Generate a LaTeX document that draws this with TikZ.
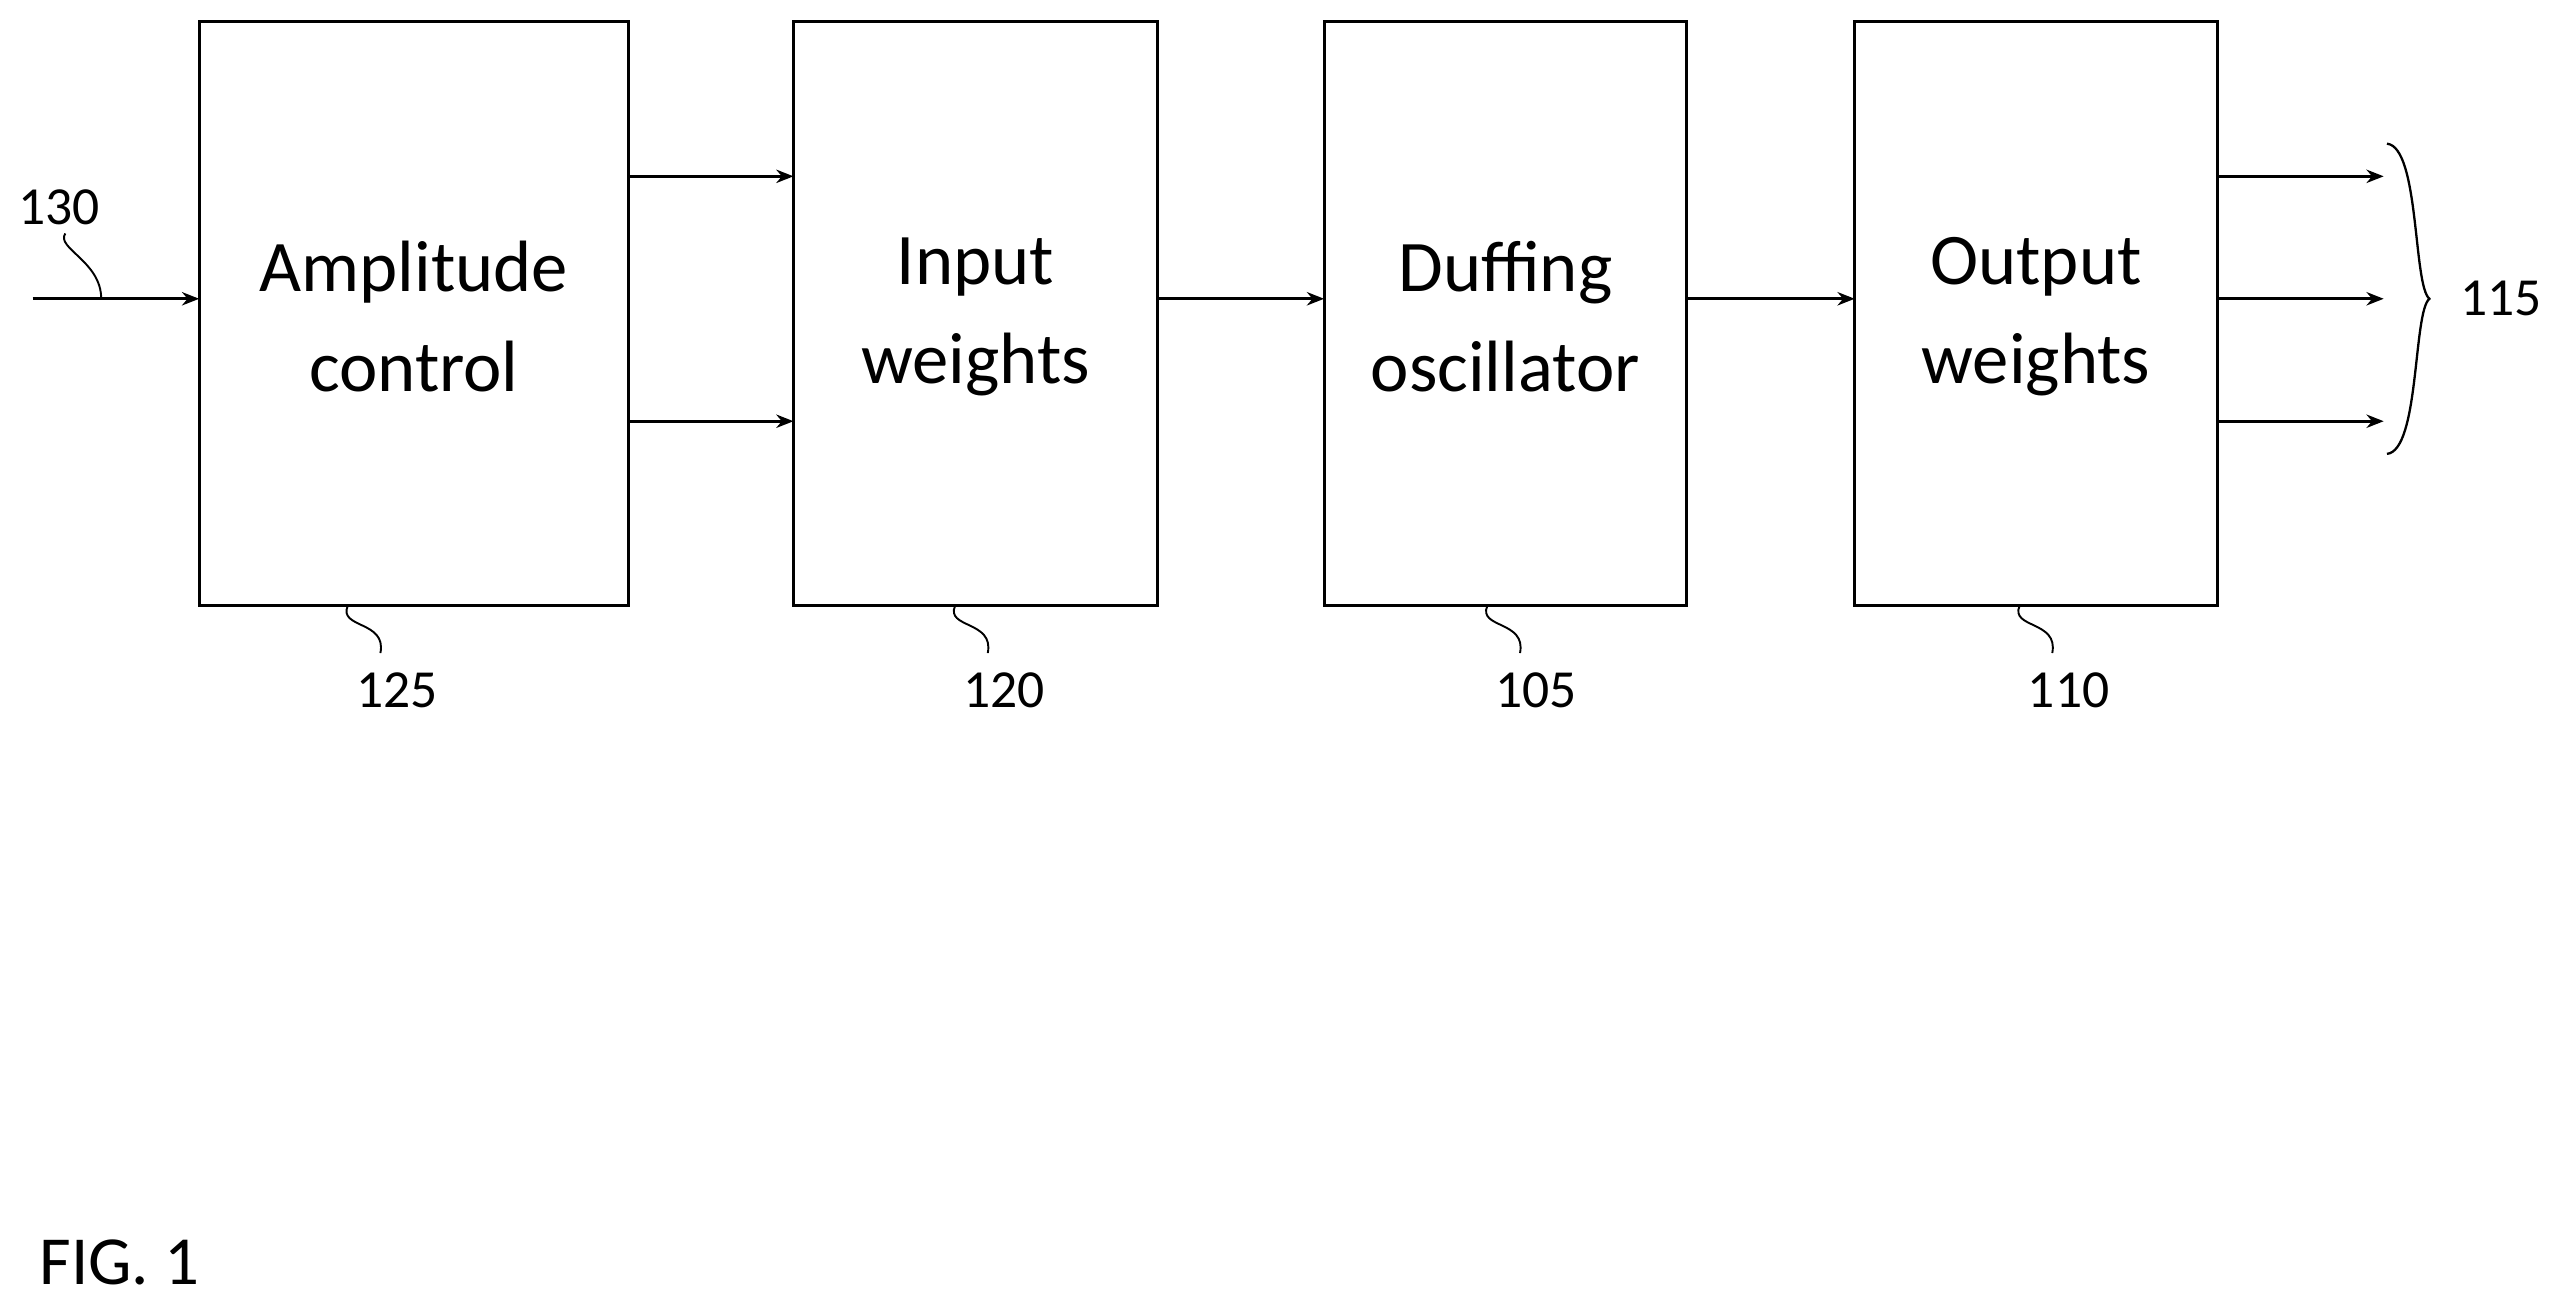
\documentclass[tikz,border=0pt]{standalone}
\usepackage{fontspec}
\setmainfont{Carlito}
\usetikzlibrary{arrows.meta}
\begin{document}
\begin{tikzpicture}[x=0.3mm,y=-0.3mm,
  arr/.style={line width=1.4pt,-{Stealth[length=9pt,width=7pt]}},
  lbl/.style={font=\fontsize{28}{32}\selectfont},
  txt/.style={font=\fontsize{38}{52}\selectfont,align=center},
  sq/.style={line width=1pt}]
\useasboundingbox (0,0) rectangle (1568,803);
\foreach \n/\a/\b/\t in {b1/122/385/{Amplitude\\control},b2/486/709/{Input\\weights},b3/811/1033/{Duffing\\oscillator},b4/1136/1358/{Output\\weights}}{
  \draw[line width=1.6pt] (\a,13) rectangle (\b,371);
  \coordinate (\n) at ({(\a+\b)/2},194);
  \node[txt] at (\n) {\t};
}
\coordinate (in) at (20,183);
\draw[arr] (in) -- (122,183);
\draw[arr] (385,108) -- (486,108);
\draw[arr] (385,258) -- (486,258);
\draw[arr] (709,183) -- (811,183);
\draw[arr] (1033,183) -- (1136,183);
\foreach \y in {108,183,258}{\draw[arr] (1358,\y) -- (1460,\y);}
\draw[line width=1.2pt] (1462,88) .. controls (1482,90) and (1478,175) .. (1488,183) .. controls (1478,191) and (1482,276) .. (1462,278);
\node[lbl] (l115) at (1532,183) {115};
\node[lbl] (l130) at (36,127) {130};
\draw[sq] (40,143) .. controls (34,152) and (62,160) .. (62,183);
\foreach \x/\t in {213/125,585/120,911/105,1237/110}{
  \draw[sq] (\x,371) .. controls (\x-6,385) and (\x+24,380) .. (\x+20,400);
  \node[lbl] at (\x+30,423) {\t};
}
\node[font=\fontsize{36}{40}\selectfont,anchor=west] (fig) at (20,773) {FIG. 1};
\end{tikzpicture}
\end{document}
